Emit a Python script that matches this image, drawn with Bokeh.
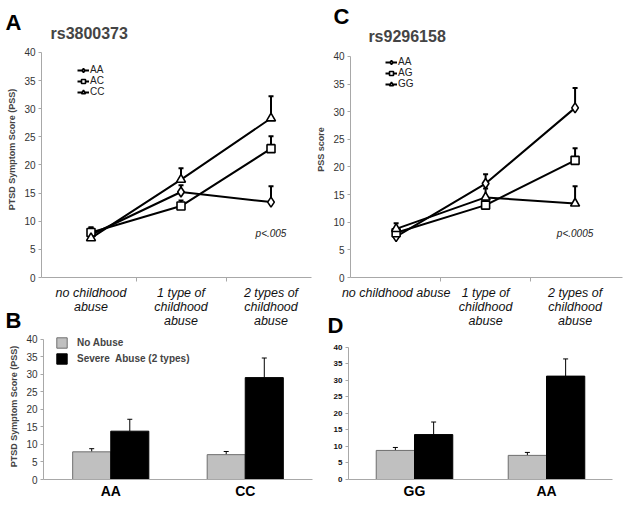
from bokeh.plotting import figure
from bokeh.layouts import column, row
from bokeh.models import (ColumnDataSource, FactorRange, FixedTicker, Label, Legend,
                          LegendItem, Whisker, TeeHead, Range1d, Title)
from bokeh.transform import dodge
from bokeh.embed import file_html
from bokeh.resources import INLINE

FONT = "Liberation Sans"

# ---------------- data ----------------
abuse_levels = [1, 2, 3]
a_abuse_labels = ["no childhood\nabuse", "1 type of\nchildhood\nabuse", "2 types of\nchildhood\nabuse"]
c_abuse_labels = ["no childhood abuse", "1 type of\nchildhood\nabuse", "2 types of\nchildhood\nabuse"]
y_ticks = [0, 5, 10, 15, 20, 25, 30, 35, 40]

# Panel A: rs3800373
a_genotypes = ["AA", "AC", "CC"]
a_AA = [7.6, 15.2, 13.4]
a_AA_err = [0.8, 1.2, 2.8]
a_AC = [8.0, 12.7, 22.9]
a_AC_err = [0.9, 1.0, 2.2]
a_CC = [7.0, 17.4, 28.3]
a_CC_err = [1.9, 2.0, 3.9]

# Panel C: rs9296158
c_genotypes = ["AA", "AG", "GG"]
c_AA = [7.4, 17.0, 30.7]
c_AA_err = [0.8, 1.7, 3.6]
c_AG = [8.1, 13.1, 21.2]
c_AG_err = [0.7, 1.0, 2.2]
c_GG = [8.8, 14.5, 13.4]
c_GG_err = [1.0, 1.6, 3.1]

# Panel B
b_cats = ["AA", "CC"]
b_no = [7.9, 7.1]
b_no_err = [0.9, 0.9]
b_sev = [13.8, 29.1]
b_sev_err = [3.4, 5.6]

# Panel D
d_cats = ["GG", "AA"]
d_no = [8.8, 7.3]
d_no_err = [0.9, 0.9]
d_sev = [13.6, 31.3]
d_sev_err = [3.8, 5.2]

bar_series = ["No Abuse", "Severe  Abuse (2 types)"]
markers = ["diamond", "square", "triangle"]
marker_sizes = [10, 8, 9]

AXIS_GRAY = "#a8a8a8"


def style_common(p):
    p.xgrid.visible = False
    p.ygrid.visible = False
    p.outline_line_color = None
    p.background_fill_color = "white"
    for ax in (p.xaxis[0], p.yaxis[0]):
        ax.axis_line_color = AXIS_GRAY
        ax.major_tick_line_color = AXIS_GRAY
        ax.minor_tick_line_color = None


def letter_title(text, offset, standoff):
    return Title(text=text, align="left", offset=offset, standoff=standoff,
                 vertical_align="bottom", text_font=FONT, text_font_size="22px",
                 text_font_style="bold", text_color="black")


def line_panel(x0, x1, ytop, mb, ylabel, genotypes, vals, errs, labels, title, pval,
               legend_loc, letter):
    p = figure(width=313, height=339, output_backend="svg", toolbar_location=None,
               title=None, x_range=Range1d(x0, x1), y_range=Range1d(0, ytop),
               min_border_left=mb[0], min_border_right=mb[1],
               min_border_top=mb[2], min_border_bottom=mb[3])
    style_common(p)
    items = []
    for name, v, e, m, s in zip(genotypes, vals, errs, markers, marker_sizes):
        src = ColumnDataSource(dict(x=abuse_levels, y=v, up=[a + b for a, b in zip(v, e)]))
        p.add_layout(Whisker(source=src, base="x", lower="y", upper="up",
                             line_width=2, line_color="black",
                             upper_head=TeeHead(size=5, line_width=2, line_color="black"),
                             lower_head=None))
        r1 = p.line("x", "y", source=src, line_width=2, line_color="black")
        r2 = p.scatter("x", "y", source=src, marker=m, size=s, fill_color="white",
                       line_color="black", line_width=1.6)
        items.append(LegendItem(label=name, renderers=[r1, r2]))
    leg = Legend(items=items, location=legend_loc, label_text_font_size="10px",
                 label_text_font=FONT, label_text_color="#222222",
                 glyph_width=12, glyph_height=10, label_height=10, spacing=0,
                 padding=0, margin=0, border_line_color=None,
                 background_fill_alpha=0, label_standoff=1)
    p.add_layout(leg)

    p.yaxis.ticker = FixedTicker(ticks=y_ticks)
    p.yaxis.bounds = (0, 40)
    p.yaxis.major_tick_out = 3
    p.yaxis.major_tick_in = 0
    p.yaxis.major_label_standoff = 3
    p.yaxis.major_label_text_font = FONT
    p.yaxis.major_label_text_font_size = "10px"
    p.yaxis.major_label_text_color = "#333333"
    p.yaxis.axis_label = ylabel
    p.yaxis.axis_label_text_font = FONT
    p.yaxis.axis_label_text_font_size = "9px"
    p.yaxis.axis_label_text_font_style = "bold"
    p.yaxis.axis_label_standoff = 4

    p.xaxis.ticker = FixedTicker(ticks=abuse_levels, minor_ticks=[1.5, 2.5])
    p.xaxis.major_label_overrides = {lv: lab for lv, lab in zip(abuse_levels, labels)}
    p.xaxis.major_tick_out = 0
    p.xaxis.major_tick_in = 0
    p.xaxis.minor_tick_line_color = AXIS_GRAY
    p.xaxis.minor_tick_out = 4
    p.xaxis.minor_tick_in = 0
    p.xaxis.major_label_standoff = 4
    p.xaxis.major_label_text_font = FONT
    p.xaxis.major_label_text_font_size = "12.5px"
    p.xaxis.major_label_text_font_style = "italic"
    p.xaxis.major_label_text_color = "#111111"
    p.xaxis.major_label_text_line_height = 1.0

    p.add_layout(Label(x=title[1], y=title[2], text=title[0], text_font=FONT,
                       text_font_size="16px", text_font_style="bold",
                       text_baseline="middle", text_align="left"))
    p.add_layout(Label(x=pval[1], y=pval[2], text=pval[0], text_font=FONT,
                       text_font_size="10px", text_font_style="italic",
                       text_baseline="middle", text_align="center", text_color="#222222"))
    p.add_layout(letter_title(*letter), "above")
    return p


def bar_panel(cats, no, no_err, sev, sev_err, ytop, mb, ylabel, off, w, tick_style,
              legend_loc, letter):
    p = figure(width=313, height=211, output_backend="svg", toolbar_location=None,
               title=None, x_range=FactorRange(*cats), y_range=Range1d(0, ytop),
               min_border_left=mb[0], min_border_right=mb[1],
               min_border_top=mb[2], min_border_bottom=mb[3])
    style_common(p)
    p.border_fill_alpha = 0
    src = ColumnDataSource(dict(cat=cats, no=no, sev=sev,
                                no_up=[a + b for a, b in zip(no, no_err)],
                                sev_up=[a + b for a, b in zip(sev, sev_err)]))
    r_no = p.vbar(x=dodge("cat", -off, range=p.x_range), top="no", width=w, source=src,
                  fill_color="#c0c0c0", line_color="#6e6e6e", line_width=1)
    r_sev = p.vbar(x=dodge("cat", off, range=p.x_range), top="sev", width=w, source=src,
                   fill_color="black", line_color="black", line_width=1)
    for o, lo, up in ((-off, "no", "no_up"), (off, "sev", "sev_up")):
        p.add_layout(Whisker(source=src, base=dodge("cat", o, range=p.x_range),
                             lower=lo, upper=up, line_width=1, line_color="black",
                             upper_head=TeeHead(size=5, line_width=1, line_color="black"),
                             lower_head=None))
    if legend_loc is not None:
        leg = Legend(items=[LegendItem(label=bar_series[0], renderers=[r_no]),
                            LegendItem(label=bar_series[1], renderers=[r_sev])],
                     location=legend_loc, label_text_font_size="10px",
                     label_text_font=FONT, label_text_font_style="bold",
                     glyph_width=13, glyph_height=13, label_height=13, spacing=3,
                     padding=0, margin=0, border_line_color=None,
                     background_fill_alpha=0, label_standoff=9)
        p.add_layout(leg)

    p.yaxis.ticker = FixedTicker(ticks=y_ticks)
    p.yaxis.bounds = (0, 40)
    p.yaxis.major_tick_out = 3
    p.yaxis.major_tick_in = 0
    p.yaxis.major_label_standoff = 3
    p.yaxis.major_label_text_font = FONT
    p.yaxis.major_label_text_font_size = tick_style[0]
    p.yaxis.major_label_text_font_style = tick_style[1]
    p.yaxis.major_label_text_color = tick_style[2]
    if ylabel:
        p.yaxis.axis_label = ylabel
        p.yaxis.axis_label_text_font = FONT
        p.yaxis.axis_label_text_font_size = "9px"
        p.yaxis.axis_label_text_font_style = "bold"
        p.yaxis.axis_label_standoff = 4

    p.xaxis.major_tick_out = 0
    p.xaxis.major_tick_in = 0
    p.xaxis.major_tick_line_color = None
    p.xaxis.major_label_standoff = 3
    p.xaxis.major_label_text_font = FONT
    p.xaxis.major_label_text_font_size = "14px"
    p.xaxis.major_label_text_font_style = "bold"
    p.xaxis.major_label_text_color = "black"
    p.add_layout(letter_title(*letter), "above")
    return p


pA = line_panel(0.45, 3.45, 45.5, (41, 2, 21, 62), "PTSD Symptom Score (PSS)", a_genotypes,
                [a_AA, a_AC, a_CC], [a_AA_err, a_AC_err, a_CC_err], a_abuse_labels,
                ("rs3800373", 0.55, 43.4), ("p<.005", 3.0, 7.8), (36, 180),
                ("A", -36, -26))

pC = line_panel(0.49, 3.53, 46.33, (37, 4, 21, 62), "PSS score", c_genotypes,
                [c_AA, c_AG, c_GG], [c_AA_err, c_AG_err, c_GG_err], c_abuse_labels,
                ("rs9296158", 0.69, 43.6), ("p<.0005", 3.0, 8.0), (35, 188),
                ("C", -17, -14))

pB = bar_panel(b_cats, b_no, b_no_err, b_sev, b_sev_err, 41.7, (43, 1, 37, 28),
               "PTSD Symptom Score (PSS)", 0.1415, 0.283, ("10px", "normal", "#333333"),
               (12, 114), ("B", -38, 2))

pD = bar_panel(d_cats, d_no, d_no_err, d_sev, d_sev_err, 44.2, (35, 14, 37, 28),
               None, 0.145, 0.29, ("8px", "bold", "#111111"), None, ("D", -21, -8))

top = row(pA, pC)
bottom = row(pB, pD, margin=(-43, 0, 0, 0))
layout = column(top, bottom)

with open("out.html", "w") as f:
    f.write(file_html(layout, INLINE))
